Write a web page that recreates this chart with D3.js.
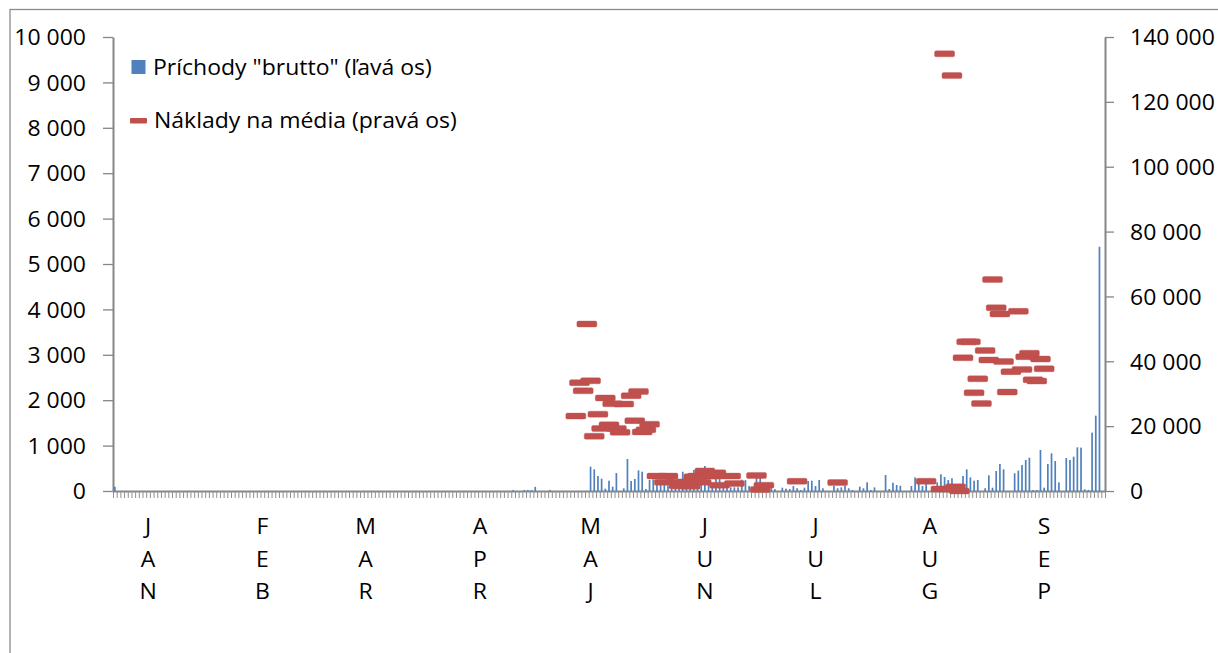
<!DOCTYPE html>
<html>
<head>
<meta charset="utf-8">
<script src="https://cdn.jsdelivr.net/npm/d3@7"></script>
<style>
  html, body { margin: 0; padding: 0; background: #fff; }
  svg { display: block; font-family: "Open Sans", "Noto Sans", sans-serif; }
</style>
</head>
<body>
<svg id="chart" width="1218" height="653"></svg>
<script>
// Daily gross arrivals ("Príchody brutto"), one array per month, 1 Jan – 26 Sep
const arrivalsJan = [95,0,0,0,0,0,0,0,0,0, 0,0,0,0,0,0,0,0,0,0, 0,0,0,0,0,0,0,0,0,0, 0];
const arrivalsFeb = [0,0,0,0,0,0,0,0,0,0, 0,0,0,0,0,0,0,0,0,0, 0,0,0,0,0,0,0,0];
const arrivalsMar = [0,0,0,0,0,0,0,0,0,0, 0,0,0,0,0,0,0,0,0,0, 0,0,0,0,0,0,0,0,0,0, 0];
const arrivalsApr = [0,0,0,0,0,0,0,0,0,0, 0,0,0,0,0,0,0,0,20,0, 0,20,20,20,90,0,0,0,20,0];
const arrivalsMay = [0,0,0,0,0,0,0,0,0,536, 477,330,272,51,227,95,396,0,59,705, 220,264,455,425,44,242,257,150,183,132, 110];
const arrivalsJun = [81,110,80,425,90,242,462,60,270,551, 242,120,265,330,80,80,80,80,80,250, 240,110,0,293,293,0,0,60,40,0];
const arrivalsJul = [73,51,44,110,60,22,73,220,227,110, 242,60,0,0,110,60,80,117,60,22, 0,95,60,190,22,80,0,0,352,44, 183];
const arrivalsAug = [132,117,0,0,110,300,154,110,154,0, 0,190,367,308,242,280,0,0,330,477, 300,227,242,0,60,345,73,440,595,477, 0];
const arrivalsSep = [0,390,450,573,683,734,22,22,903,73, 595,830,660,190,0,727,683,756,962,955, 37,22,1285,1660,5380,0];

// Media costs ("Náklady na média"), only on the days when they were booked
const costDates = [
  "2011-05-06","2011-05-07","2011-05-08","2011-05-09","2011-05-10","2011-05-11","2011-05-12",
  "2011-05-13","2011-05-14","2011-05-15","2011-05-16","2011-05-17","2011-05-18","2011-05-19",
  "2011-05-21","2011-05-22","2011-05-23","2011-05-24","2011-05-25","2011-05-26","2011-05-28",
  "2011-05-30","2011-05-31","2011-06-02","2011-06-03","2011-06-04","2011-06-05","2011-06-06",
  "2011-06-07","2011-06-08","2011-06-09","2011-06-10","2011-06-11","2011-06-12","2011-06-13",
  "2011-06-14","2011-06-17","2011-06-18","2011-06-24","2011-06-25","2011-06-26","2011-07-05",
  "2011-07-16","2011-08-09","2011-08-13","2011-08-14","2011-08-15","2011-08-16","2011-08-17",
  "2011-08-18","2011-08-19","2011-08-20","2011-08-21","2011-08-22","2011-08-23","2011-08-24",
  "2011-08-25","2011-08-26","2011-08-27","2011-08-28","2011-08-29","2011-08-30","2011-08-31",
  "2011-09-01","2011-09-03","2011-09-04","2011-09-05","2011-09-06","2011-09-07","2011-09-08",
  "2011-09-09","2011-09-10"
];
const costValues = [
  23100,33400,30900,51500,34000,16900,23700,
  19300,28700,20400,26900,19300,18100,26800,
  29400,21700,30700,18200,18900,20600,4600,
  2700,4600,2700,1600,1600,2800,1500,
  4400,4600,2700,6200,4600,4600,5600,
  1800,4600,2300,4800,500,1800,3000,
  2600,3000,600,134800,600,128100,1300,
  0,41100,46000,46000,30300,34600,27000,
  43300,40400,65200,56500,54600,39900,30500,
  36800,55400,37500,41400,42500,34300,33900,
  40700,37700
];

// Axis ticks and category labels
const leftTicks = [0,1000,2000,3000,4000,5000,6000,7000,8000,9000,10000];
const rightTicks = [0,20000,40000,60000,80000,100000,120000,140000];
const monthLabels = ["JAN","FEB","MAR","APR","MAJ","JUN","JUL","AUG","SEP"];
const monthLabelDates = ["2011-01-10","2011-02-10","2011-03-10","2011-04-10","2011-05-10",
                         "2011-06-10","2011-07-10","2011-08-10","2011-09-10"];
const legendLabels = ["Príchody \"brutto\" (ľavá os)", "Náklady na média (pravá os)"];

// ---------------------------------------------------------------------------
const parse = d3.timeParse("%Y-%m-%d");
const days = d3.timeDay.range(new Date(2011, 0, 1), new Date(2011, 8, 27));
const arrivals = [].concat(arrivalsJan, arrivalsFeb, arrivalsMar, arrivalsApr, arrivalsMay,
                           arrivalsJun, arrivalsJul, arrivalsAug, arrivalsSep);
const barData = days.map((d, i) => ({ date: d, value: arrivals[i] }));
const costData = costDates.map((s, i) => ({ date: parse(s), value: costValues[i] }));

const plot = { left: 113, right: 1105, top: 37, bottom: 491 };
const AXIS = "#868686";
const FONT = "'Open Sans', 'Noto Sans', sans-serif";
const FONT_SIZE = "21.5px";
const STRETCH = 1.07;   // slightly wide lettering

const svg = d3.select("#chart");

// chart-area frame
svg.append("rect")
  .attr("x", 10).attr("y", 9.5).attr("width", 1230).attr("height", 680)
  .attr("fill", "none").attr("stroke", "#8c8c8c").attr("stroke-width", 1.3);

const x = d3.scaleBand().domain(days).range([plot.left, plot.right]).padding(0);
const xEdge = d3.scaleLinear().domain([0, days.length]).range([plot.left, plot.right]);
const yL = d3.scaleLinear().domain([0, 10000]).range([plot.bottom, plot.top]);
const yR = d3.scaleLinear().domain([0, 140000]).range([plot.bottom, plot.top]);

const locale = d3.formatLocale({ decimal: ",", thousands: "\u00a0", grouping: [3], currency: ["", ""] });
const fmt = locale.format(",d");

function styleText(sel) {
  sel.attr("fill", "#000").style("font-size", FONT_SIZE).style("font-family", FONT);
}

function styleValueAxis(g, offset) {
  g.select(".domain").attr("stroke", AXIS).attr("stroke-width", 2);
  g.selectAll(".tick line").attr("stroke", AXIS).attr("stroke-width", 1.3);
  g.selectAll(".tick text").call(styleText)
    .attr("x", offset / STRETCH)
    .attr("dy", "0.36em")
    .attr("transform", `scale(${STRETCH},1)`);
}

// daily tick marks under the category axis (between categories)
const gDays = svg.append("g").attr("transform", `translate(0,${plot.bottom})`)
  .call(d3.axisBottom(xEdge).tickValues(d3.range(days.length + 1)).tickSize(7)
    .tickSizeOuter(0).tickFormat(""));
gDays.select(".domain").attr("stroke", AXIS).attr("stroke-width", 2);
gDays.selectAll(".tick line").attr("stroke", "#8f8f8f").attr("stroke-width", 1);

// month labels, written letter under letter
const gMonths = svg.append("g").attr("transform", `translate(0,${plot.bottom})`)
  .call(d3.axisBottom(x).tickValues(monthLabelDates.map(parse)).tickSize(0)
    .tickFormat((d, i) => monthLabels[i]));
gMonths.select(".domain").remove();
gMonths.selectAll(".tick text").each(function(d, i) {
  const t = d3.select(this);
  const word = monthLabels[i];
  t.text(null).attr("y", null).attr("dy", null)
    .attr("transform", `scale(${STRETCH},1)`)
    .call(styleText);
  word.split("").forEach((ch, k) => {
    t.append("tspan").attr("x", 0).attr("y", 43.5 + k * 32.5).text(ch);
  });
});

// left value axis (arrivals)
const gL = svg.append("g").attr("transform", `translate(${plot.left},0)`)
  .call(d3.axisLeft(yL).tickValues(leftTicks).tickSize(10).tickSizeOuter(0)
    .tickPadding(17).tickFormat(fmt));
styleValueAxis(gL, -27);

// right value axis (media costs)
const gR = svg.append("g").attr("transform", `translate(${plot.right},0)`)
  .call(d3.axisRight(yR).tickValues(rightTicks).tickSize(9).tickSizeOuter(0)
    .tickPadding(16).tickFormat(fmt));
styleValueAxis(gR, 25);

// arrival columns
const barW = 1.7;
svg.append("g").selectAll("rect").data(barData.filter(d => d.value > 0)).join("rect")
  .attr("x", d => x(d.date) + x.bandwidth() / 2 - barW / 2)
  .attr("y", d => yL(d.value))
  .attr("width", barW)
  .attr("height", d => plot.bottom - yL(d.value))
  .attr("fill", "#4F81BD");

// media cost dash markers
const dashW = 20, dashH = 6;
svg.append("g").selectAll("rect").data(costData).join("rect")
  .attr("x", d => x(d.date) + x.bandwidth() / 2 - dashW / 2)
  .attr("y", d => yR(d.value) - dashH / 2)
  .attr("width", dashW).attr("height", dashH).attr("rx", 1.5)
  .attr("fill", "#C0504D")
  .attr("stroke", "rgba(192,80,77,0.35)").attr("stroke-width", 1);

// legend
const legend = svg.append("g");
legend.append("rect").attr("x", 131.5).attr("y", 60).attr("width", 14).attr("height", 14)
  .attr("fill", "#4F81BD");
legend.append("text").attr("transform", `translate(153,74.5) scale(${STRETCH},1)`)
  .text(legendLabels[0]).call(styleText);
legend.append("rect").attr("x", 130).attr("y", 118).attr("width", 17).attr("height", 5.5)
  .attr("rx", 1).attr("fill", "#C0504D");
legend.append("text").attr("transform", `translate(154,128.3) scale(${STRETCH},1)`)
  .text(legendLabels[1]).call(styleText);
</script>
</body>
</html>
